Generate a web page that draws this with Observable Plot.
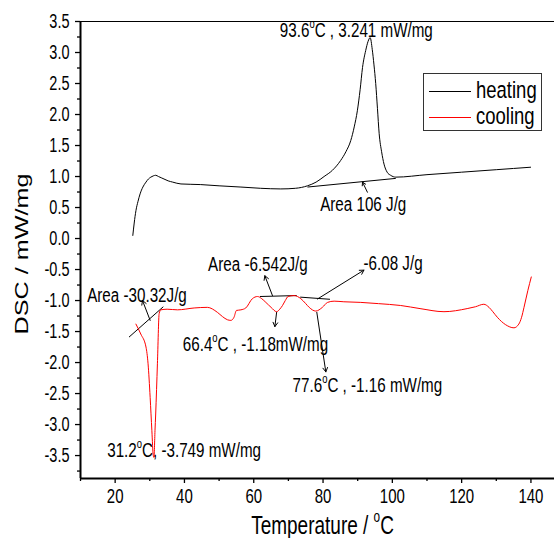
<!DOCTYPE html>
<html><head><meta charset="utf-8">
<script src="https://cdn.jsdelivr.net/npm/d3@7"></script>
<script src="https://cdn.jsdelivr.net/npm/@observablehq/plot@0.6"></script>
<style>
body{margin:0;background:#fff;}
#wrap{position:relative;width:554px;height:538px;overflow:hidden;font-family:"Liberation Sans",Arial,sans-serif;}
#legend{position:absolute;left:423px;top:73px;width:119px;height:58px;border:1px solid #333;background:#fff;box-sizing:border-box;}
#legend .row{position:absolute;left:4px;height:20px;width:112px;}
#legend .sw{position:absolute;left:1px;top:10px;width:42px;height:0;border-top:1px solid;}
#legend .lb{position:absolute;left:48px;top:-1px;font-size:18.5px;line-height:20px;display:inline-block;transform:scaleY(1.3);transform-origin:center;}
</style></head><body><div id="wrap"></div>
<script>
// heating curve (Temperature °C, DSC mW/mg)
const heatT = [25.1,25.5,26,26.6,27.2,28,28.9,29.6,30.3,31,31.7,32.5,33.3,34.1,35.3,36.6,39,44.7,50,56.3,62,67.8,72,75.5,78,80.3,82.7,85.1,86.6,88,89,89.9,90.7,91.4,92.3,93,93.6,94.2,94.7,95.2,95.7,96.2,96.9,97.6,98.5,99.5,101,110,120,130,139.9];
const heatV = [0.05,0.25,0.45,0.6,0.72,0.83,0.91,0.96,0.99,1.01,1.02,1.0,0.98,0.96,0.93,0.91,0.88,0.87,0.85,0.83,0.81,0.8,0.81,0.85,0.91,1.0,1.1,1.26,1.4,1.58,1.8,2.06,2.4,2.76,3.03,3.18,3.24,3.05,2.8,2.5,2.1,1.69,1.4,1.2,1.07,1.02,0.99,1.03,1.07,1.11,1.15];
// cooling curve
const coolT = [26.0,27.4,28.9,29.5,30.1,30.6,31.0,31.2,31.5,31.7,32.2,32.7,33.2,35,38,42.8,46.6,49.5,51,52.4,53.4,54.3,55,56.3,57.7,59.6,61.1,62.3,63.5,65,66.6,67.5,68.3,69.1,69.9,71.6,73.6,75,76,77.9,79.8,81.3,83.2,86,90.9,96,102.4,108,114.9,121.6,124,126.4,127.9,129,130.3,132.7,135.1,136.5,137.3,138,139.1,140.1];
const coolV = [-1.38,-1.54,-1.75,-2.02,-2.56,-3.1,-3.5,-3.53,-3.1,-2.83,-2.02,-1.21,-1.15,-1.14,-1.15,-1.12,-1.11,-1.19,-1.26,-1.31,-1.32,-1.27,-1.16,-1.15,-1.12,-0.97,-0.935,-0.97,-1.03,-1.11,-1.18,-1.14,-1.08,-1.0,-0.935,-0.92,-0.97,-1.05,-1.11,-1.17,-1.11,-1.03,-1.01,-1.02,-1.03,-1.05,-1.08,-1.13,-1.18,-1.13,-1.1,-1.06,-1.11,-1.18,-1.27,-1.39,-1.44,-1.38,-1.27,-1.11,-0.84,-0.62];
// axis ticks
const xMajor = [20,40,60,80,100,120,140];
const xMinor = [10,30,50,70,90,110,130];
const yMajor = [-3.5,-3,-2.5,-2,-1.5,-1,-0.5,0,0.5,1,1.5,2,2.5,3,3.5];
const yMinor = [-3.75,-3.25,-2.75,-2.25,-1.75,-1.25,-0.75,-0.25,0.25,0.75,1.25,1.75,2.25,2.75,3.25];
// annotations (data units)
const labelText = ["93.6°C , 3.241 mW/mg","Area 106 J/g","Area -30.32J/g","Area -6.542J/g","-6.08 J/g","66.4°C , -1.18mW/mg","77.6°C , -1.16 mW/mg","31.2°C, -3.749 mW/mg"];
const labelT = [89.6,91.6,26.3,61.2,100.2,60.5,92.8,39.9];
const labelV = [3.355,0.55,-0.92,-0.42,-0.40,-1.71,-2.37,-3.42];
const baseT1 = [75.5,24.0,61.8,73.4], baseV1 = [0.83,-1.59,-0.935,-0.945];
const baseT2 = [101,33.9,72.4,82.0],  baseV2 = [0.97,-1.10,-0.92,-0.98];
const arrT1 = [92.8,30.1,65.4,78.4,66.6,78.2], arrV1 = [0.747,-1.32,-0.92,-0.975,-1.19,-1.19];
const arrT2 = [91.4,27.9,63.2,91.8,66.1,80.8], arrV2 = [0.91,-1.0,-0.6,-0.51,-1.42,-2.15];
const seriesNames = ["heating","cooling"];
const seriesColors = ["#000000","#ff0000"];

const heat = heatT.map((t,i)=>({t, v: heatV[i]}));
const cool = coolT.map((t,i)=>({t, v: coolV[i]}));
const labels = labelText.map((s,i)=>({s, t: labelT[i], v: labelV[i]}));
const bases = baseT1.map((t,i)=>({x1:t,y1:baseV1[i],x2:baseT2[i],y2:baseV2[i]}));
const arrows = arrT1.map((t,i)=>({x1:t,y1:arrV1[i],x2:arrT2[i],y2:arrV2[i]}));
const YMIN = -3.87, YMAX = 3.5, XMIN = 10, XMAX = 146.8;

const plot = Plot.plot({
  width: 554, height: 538,
  marginLeft: 80, marginRight: 0, marginTop: 21, marginBottom: 60,
  x: {domain: [XMIN, XMAX]},
  y: {domain: [YMIN, YMAX]},
  style: {fontFamily: '"Liberation Sans", Arial, sans-serif', fontSize: "14px", background: "white", color: "black", overflow: "hidden"},
  marks: [
    Plot.axisY({ticks: yMinor, tickSize: 3, tickFormat: () => "", label: null, strokeWidth: 1.3}),
    Plot.axisY({ticks: yMajor, tickSize: 5, tickPadding: 6, tickFormat: d => d.toFixed(1), label: null, strokeWidth: 1.3, fontSize: 14.5}),
    Plot.axisX({ticks: xMinor, tickSize: 3, tickFormat: () => "", label: null, strokeWidth: 1.3}),
    Plot.axisX({ticks: xMajor, tickSize: 5, tickPadding: 5, tickFormat: d => String(d), label: null, strokeWidth: 1.3, fontSize: 15}),
    Plot.ruleX([XMIN], {strokeWidth: 2}),
    Plot.ruleY([YMIN], {strokeWidth: 2}),
    Plot.ruleY([YMAX], {strokeWidth: 1.2}),
    Plot.text(["DSC / mW/mg"], {frameAnchor: "left", textAnchor: "middle", lineAnchor: "middle", rotate: -90, dx: -58, dy: 4, fontSize: 18}),
    Plot.text(["Temperature / °C"], {frameAnchor: "bottom", textAnchor: "middle", lineAnchor: "middle", dy: 47, dx: 5, fontSize: 19}),
    Plot.text(labels, {x: "t", y: "v", text: "s", fontSize: 15.2}),
    Plot.link(bases, {x1: "x1", y1: "y1", x2: "x2", y2: "y2", stroke: "black", strokeWidth: 1}),
    Plot.arrow(arrows, {x1: "x1", y1: "y1", x2: "x2", y2: "y2", stroke: "black", strokeWidth: 1, headLength: 7, bend: 0}),
    Plot.line(heat, {x: "t", y: "v", stroke: seriesColors[0], strokeWidth: 1, curve: "monotone-x"}),
    Plot.line(cool, {x: "t", y: "v", stroke: seriesColors[1], strokeWidth: 1, curve: "monotone-x"})
  ]
});
// vertical stretch of glyphs to match the reference's tall lettering; superscript "o" for degrees
plot.querySelectorAll("text").forEach(el => {
  const tr = el.getAttribute("transform") || "";
  el.setAttribute("transform", tr + (/rotate/.test(tr) ? " scale(1.4,1)" : " scale(1,1.35)"));
  if (el.textContent.includes("°")) {
    const parts = el.textContent.split("°");
    el.innerHTML = parts[0] + '<tspan dy="-0.75em" font-size="62%">o</tspan><tspan dy="0.465em">' + parts[1] + '</tspan>';
  }
});
const wrap = document.getElementById("wrap");
wrap.appendChild(plot);
const lg = document.createElement("div");
lg.id = "legend";
seriesNames.forEach((n,i) => {
  const row = document.createElement("div");
  row.className = "row";
  row.style.top = (7 + i*26) + "px";
  row.innerHTML = `<span class="sw" style="border-color:${seriesColors[i]}"></span><span class="lb">${n}</span>`;
  lg.appendChild(row);
});
wrap.appendChild(lg);
</script>
</body></html>
